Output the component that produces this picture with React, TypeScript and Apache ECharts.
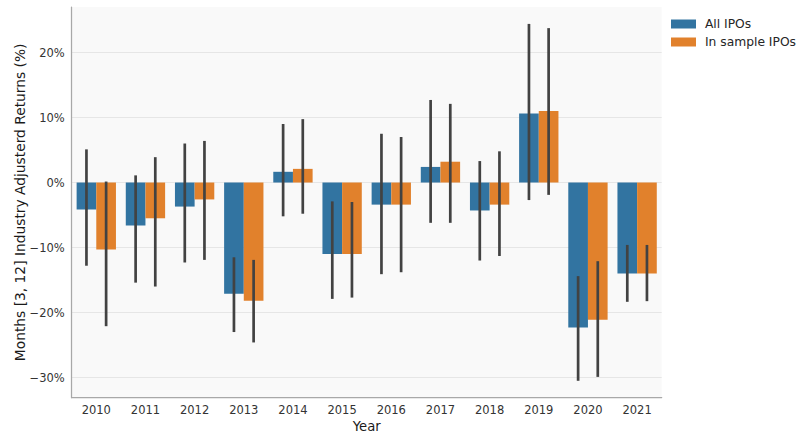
import React, { useEffect, useRef } from "react";
import * as echarts from "echarts";

const years = ["2010", "2011", "2012", "2013", "2014", "2015", "2016", "2017", "2018", "2019", "2020", "2021"];
const allIPOs = [-4.15, -6.6, -3.7, -17.1, 1.65, -11.0, -3.4, 2.4, -4.3, 10.6, -22.3, -14.0];
const allLow = [-12.8, -15.4, -12.3, -23.0, -5.2, -17.9, -14.1, -6.2, -12.0, -2.7, -30.5, -18.35];
const allHigh = [5.1, 1.1, 6.0, -11.5, 9.0, -2.9, 7.5, 12.7, 3.3, 24.4, -14.4, -9.6];
const sampleIPOs = [-10.3, -5.5, -2.6, -18.2, 2.1, -11.0, -3.4, 3.2, -3.4, 11.0, -21.1, -14.0];
const sampleLow = [-22.1, -16.0, -11.9, -24.6, -4.8, -17.7, -13.8, -6.2, -11.3, -1.9, -29.9, -18.25];
const sampleHigh = [0.15, 3.9, 6.4, -11.9, 9.75, -3.0, 7.0, 12.1, 4.8, 23.75, -12.1, -9.6];
const yTicks = [-30, -20, -10, 0, 10, 20];

const FONT = "DejaVu Sans";

function errSeries(name: string, low: number[], high: number[], side: number) {
  return {
    name: name + " err",
    type: "custom",
    data: years.map((_, i) => [i, low[i], high[i]]),
    encode: { x: 0, y: [1, 2] },
    z: 5,
    silent: true,
    renderItem: (params: any, api: any) => {
      const i = api.value(0);
      const lo = api.coord([i, api.value(1)]);
      const hi = api.coord([i, api.value(2)]);
      const w = api.size([1, 0])[0];
      const x = lo[0] + side * w * 0.2;
      return {
        type: "line",
        shape: { x1: x, y1: lo[1], x2: x, y2: hi[1] },
        style: { stroke: "#424242", lineWidth: 2.7 },
      };
    },
  };
}

export default function App() {
  const ref = useRef<HTMLDivElement>(null);
  useEffect(() => {
    const chart = echarts.init(ref.current!, null, { renderer: "svg" });
    chart.setOption({
      animation: false,
      backgroundColor: "#ffffff",
      textStyle: { fontFamily: FONT },
      grid: {
        left: 71.7,
        right: 138.3,
        top: 7,
        bottom: 36.3,
        show: true,
        backgroundColor: "#f9f9f9",
        borderWidth: 0,
        containLabel: false,
        outerBoundsMode: "none",
      },
      legend: {
        orient: "vertical",
        left: 671,
        top: 16.5,
        padding: 0,
        itemWidth: 25,
        itemHeight: 9,
        itemGap: 3,
        icon: "rect",
        data: ["All IPOs", "In sample IPOs"],
        formatter: (n: string) => " " + n,
        textStyle: { fontFamily: FONT, fontSize: 12.3, lineHeight: 15, color: "#262626" },
      },
      xAxis: {
        type: "category",
        data: years,
        name: "Year",
        nameLocation: "middle",
        nameGap: 22,
        nameMoveOverlap: false,
        nameTextStyle: { fontFamily: FONT, fontSize: 13.2, color: "#1a1a1a" },
        axisLine: { show: true, onZero: false, lineStyle: { color: "#a8a8a8", width: 1.25 } },
        axisTick: { show: false },
        axisLabel: { fontFamily: FONT, fontSize: 11.5, color: "#333333", margin: 6 },
        splitLine: { show: false },
      },
      yAxis: {
        type: "value",
        min: -33.1,
        max: 27.0,
        name: "Months [3, 12] Industry Adjusterd Returns (%)",
        nameLocation: "middle",
        nameGap: 45,
        nameMoveOverlap: false,
        nameTextStyle: { fontFamily: FONT, fontSize: 13.8, color: "#1a1a1a" },
        axisLine: { show: true, onZero: false, lineStyle: { color: "#a8a8a8", width: 1.25 } },
        axisTick: { show: false, customValues: yTicks },
        axisLabel: {
          customValues: yTicks,
          fontFamily: FONT,
          fontSize: 11.5,
          color: "#333333",
          margin: 7,
          formatter: (v: number) => (v < 0 ? "\u2212" : "") + Math.abs(v) + "%",
        },
        splitLine: { show: true, lineStyle: { color: "#e6e6e6", width: 1 } },
      },
      series: [
        {
          name: "All IPOs",
          type: "bar",
          data: allIPOs,
          itemStyle: { color: "#3274a1" },
          barWidth: "40%",
          barGap: "0%",
          z: 2,
        },
        {
          name: "In sample IPOs",
          type: "bar",
          data: sampleIPOs,
          itemStyle: { color: "#e1812c" },
          barWidth: "40%",
          barGap: "0%",
          z: 2,
        },
        errSeries("All IPOs", allLow, allHigh, -1),
        errSeries("In sample IPOs", sampleLow, sampleHigh, 1),
      ],
    });
    return () => chart.dispose();
  }, []);
  return (
    <div
      ref={ref}
      style={{ position: "fixed", left: 0, top: 0, width: 800, height: 434 }}
    />
  );
}
